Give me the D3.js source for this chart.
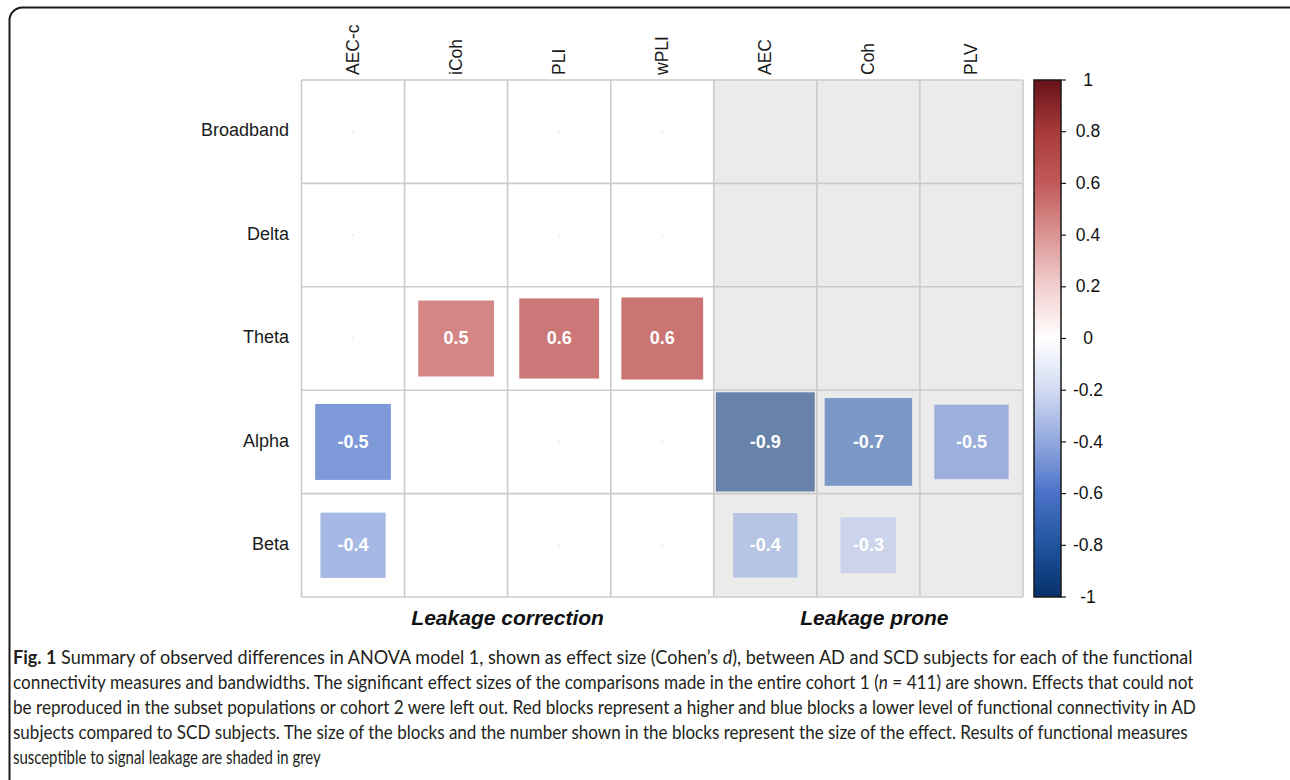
<!DOCTYPE html>
<html>
<head>
<meta charset="utf-8">
<script src="https://cdn.jsdelivr.net/npm/d3@7"></script>
<style>
  html, body { margin: 0; padding: 0; background: #ffffff; }
  svg { display: block; }
</style>
</head>
<body>
<svg id="chart" width="1290" height="780"></svg>
<script>
// ---------------- data ----------------
const measures = ["AEC-c", "iCoh", "PLI", "wPLI", "AEC", "Coh", "PLV"];
const bands = ["Broadband", "Delta", "Theta", "Alpha", "Beta"];
const proneMeasures = ["AEC", "Coh", "PLV"];
const groupLabels = ["Leakage correction", "Leakage prone"];
// effect sizes (Cohen's d), one row per band, columns follow `measures`
const broadbandValues = [0, 0, 0, 0, 0, 0, 0];
const deltaValues     = [0, 0, 0, 0, 0, 0, 0];
const thetaValues     = [0, 0.54, 0.60, 0.63, 0, 0, 0];
const alphaValues     = [-0.54, 0, 0, 0, -0.92, -0.72, -0.52];
const betaValues      = [-0.40, 0, 0, 0, -0.39, -0.29, 0];
const colorbarTicks = [1, 0.8, 0.6, 0.4, 0.2, 0, -0.2, -0.4, -0.6, -0.8, -1];
const colorStops  = [-1, -0.8, -0.6, -0.4, -0.2, 0, 0.2, 0.4, 0.6, 0.8, 1];
const colorValues = ["#06306a", "#1f549e", "#4a72c8", "#92a8de", "#d2daf2", "#ffffff",
                     "#f2cfcf", "#dc9494", "#c25a5a", "#a83a3a", "#67121a"];
const captionLines = [
  [{t: "Fig. 1", w: "bold"}, {t: " Summary of observed differences in ANOVA model 1, shown as effect size (Cohen’s "}, {t: "d", s: "italic"}, {t: "), between AD and SCD subjects for each of the functional"}],
  [{t: "connectivity measures and bandwidths. The significant effect sizes of the comparisons made in the entire cohort 1 ("}, {t: "n", s: "italic"}, {t: " = 411) are shown. Effects that could not"}],
  [{t: "be reproduced in the subset populations or cohort 2 were left out. Red blocks represent a higher and blue blocks a lower level of functional connectivity in AD"}],
  [{t: "subjects compared to SCD subjects. The size of the blocks and the number shown in the blocks represent the size of the effect. Results of functional measures"}],
  [{t: "susceptible to signal leakage are shaded in grey"}]
];
const captionLineEnds = [1193, 1194, 1197, 1189, 321];

const rowsData = [broadbandValues, deltaValues, thetaValues, alphaValues, betaValues];
const cells = [];
bands.forEach((b, i) => measures.forEach((m, j) => cells.push({band: b, measure: m, value: rowsData[i][j]})));

// ---------------- layout ----------------
const svg = d3.select("#chart");
const FONT = "'Liberation Sans', Arial, sans-serif";
const locale = d3.formatLocale({decimal: ".", thousands: ",", grouping: [3], currency: ["", ""], minus: "-"});
const fmt1 = locale.format(".1f");
const fmtTick = locale.format("");

const x = d3.scaleBand().domain(measures).range([301.5, 1023]);
const y = d3.scaleBand().domain(bands).range([80, 597]);
const color = d3.scaleLinear().domain(colorStops).range(colorValues).clamp(true);
const isProne = m => proneMeasures.includes(m);

// frame
svg.append("rect")
  .attr("x", 9.5).attr("y", 7.5).attr("width", 1295).attr("height", 820)
  .attr("rx", 13).attr("ry", 13)
  .attr("fill", "none").attr("stroke", "#1a1a1a").attr("stroke-width", 2);

// grey background for leakage-prone measures
svg.append("rect")
  .attr("x", x(proneMeasures[0])).attr("y", y.range()[0])
  .attr("width", x.range()[1] - x(proneMeasures[0]))
  .attr("height", y.range()[1] - y.range()[0])
  .attr("fill", "#ebebeb");

// grid lines
const grid = svg.append("g").attr("stroke", "#cbcbcb").attr("stroke-width", 1.6);
measures.concat(["__end"]).forEach((m, i) => {
  const xx = i < measures.length ? x(m) : x.range()[1];
  grid.append("line").attr("x1", xx).attr("x2", xx).attr("y1", y.range()[0]).attr("y2", y.range()[1]);
});
bands.concat(["__end"]).forEach((b, i) => {
  const yy = i < bands.length ? y(b) : y.range()[1];
  grid.append("line").attr("x1", x.range()[0]).attr("x2", x.range()[1]).attr("y1", yy).attr("y2", yy);
});

// squares
const cw = x.bandwidth(), ch = y.bandwidth();
const sq = svg.append("g");
cells.forEach(d => {
  const cx = x(d.measure) + cw / 2, cy = y(d.band) + ch / 2;
  if (d.value === 0) {
    if (!isProne(d.measure)) {
      sq.append("rect").attr("x", cx - 1).attr("y", cy - 1).attr("width", 2).attr("height", 2)
        .attr("fill", "#eeeeee");
    }
    return;
  }
  const s = Math.sqrt(Math.abs(d.value));
  const w = cw * s, h = ch * s;
  sq.append("rect")
    .attr("x", cx - w / 2).attr("y", cy - h / 2).attr("width", w).attr("height", h)
    .attr("fill", color(d.value))
    .attr("fill-opacity", isProne(d.measure) ? 0.6 : 0.82);
  sq.append("text")
    .attr("x", cx).attr("y", cy + 1)
    .attr("text-anchor", "middle").attr("dominant-baseline", "middle")
    .attr("font-family", FONT).attr("font-weight", "bold").attr("font-size", 18)
    .attr("fill", "#ffffff")
    .text(fmt1(d.value));
});

// column labels (rotated)
measures.forEach(m => {
  svg.append("text")
    .attr("transform", `translate(${x(m) + cw / 2 + 6},75) rotate(-90)`)
    .attr("text-anchor", "start")
    .attr("font-family", FONT).attr("font-size", 17.5).attr("fill", "#1a1a1a")
    .text(m);
});

// row labels
bands.forEach(b => {
  svg.append("text")
    .attr("x", 289).attr("y", y(b) + ch / 2)
    .attr("text-anchor", "end").attr("dominant-baseline", "middle")
    .attr("font-family", FONT).attr("font-size", 18).attr("fill", "#1a1a1a")
    .text(b);
});

// group labels
const leftCenter = (x(measures[0]) + x(proneMeasures[0])) / 2;
const rightCenter = (x(proneMeasures[0]) + x.range()[1]) / 2 + 6;
[[groupLabels[0], leftCenter], [groupLabels[1], rightCenter]].forEach(([t, cx]) => {
  svg.append("text")
    .attr("x", cx).attr("y", 625)
    .attr("text-anchor", "middle")
    .attr("font-family", FONT).attr("font-weight", "bold").attr("font-style", "italic")
    .attr("font-size", 21).attr("fill", "#111")
    .text(t);
});

// colorbar
const cbX = 1034, cbW = 27;
const cbY = d3.scaleLinear().domain([-1, 1]).range([597, 80]);
const defs = svg.append("defs");
const grad = defs.append("linearGradient").attr("id", "cbgrad")
  .attr("x1", "0").attr("y1", "1").attr("x2", "0").attr("y2", "0");
d3.range(0, 101).forEach(i => {
  const v = -1 + 2 * i / 100;
  grad.append("stop").attr("offset", `${i}%`).attr("stop-color", color(v));
});
svg.append("rect")
  .attr("x", cbX).attr("y", cbY(1)).attr("width", cbW).attr("height", cbY(-1) - cbY(1))
  .attr("fill", "url(#cbgrad)").attr("stroke", "#1a1a1a").attr("stroke-width", 1.5);
const cbAxis = svg.append("g");
colorbarTicks.forEach(v => {
  cbAxis.append("line")
    .attr("x1", cbX + cbW).attr("x2", cbX + cbW + 5)
    .attr("y1", cbY(v)).attr("y2", cbY(v))
    .attr("stroke", "#1a1a1a").attr("stroke-width", 1.2);
  cbAxis.append("text")
    .attr("x", 1088).attr("y", cbY(v) + 1)
    .attr("text-anchor", "middle").attr("dominant-baseline", "middle")
    .attr("font-family", FONT).attr("font-size", 17.5).attr("fill", "#111")
    .text(fmtTick(v));
});

// caption (each line horizontally scaled to the reference line length)
const capFont = "'Liberation Sans Narrow', Lato, 'Open Sans', sans-serif";
captionLines.forEach((parts, i) => {
  const g = svg.append("g");
  const t = g.append("text")
    .attr("x", 0).attr("y", 0)
    .attr("font-family", capFont).attr("font-size", 18.5).attr("fill", "#231f20");
  parts.forEach(p => {
    t.append("tspan")
      .attr("font-weight", p.w || "normal")
      .attr("font-style", p.s || "normal")
      .text(p.t);
  });
  const natural = t.node().getComputedTextLength();
  const k = (captionLineEnds[i] - 13) / natural;
  g.attr("transform", `translate(13,${664 + i * 25}) scale(${k},1)`);
});
</script>
</body>
</html>
